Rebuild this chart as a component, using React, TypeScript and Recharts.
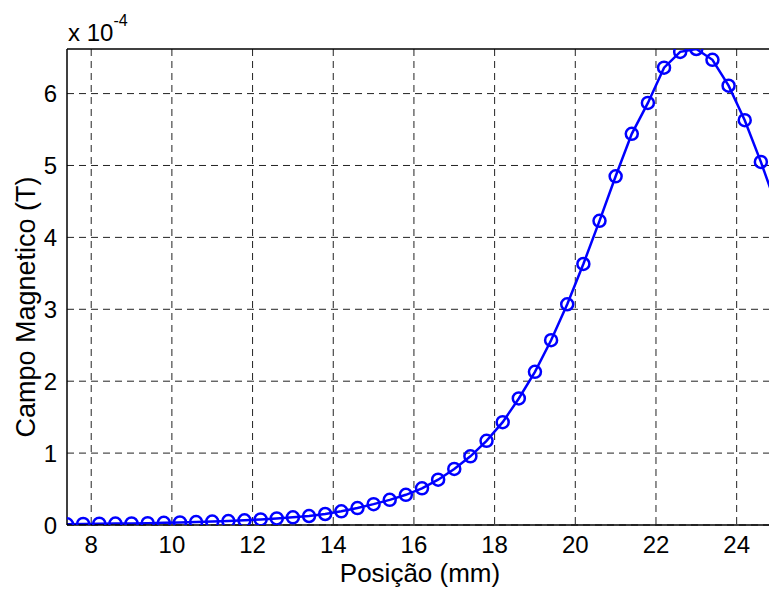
import React from 'react'
import {
  LineChart,
  Line,
  XAxis,
  YAxis,
  CartesianGrid,
  ReferenceLine,
} from 'recharts'

// posição (mm) e campo (x 1e-4 T)
const POSITIONS = [
  7.4, 7.8, 8.2, 8.6, 9.0, 9.4, 9.8, 10.2, 10.6, 11.0, 11.4, 11.8, 12.2, 12.6, 13.0,
  13.4, 13.8, 14.2, 14.6, 15.0, 15.4, 15.8, 16.2, 16.6, 17.0, 17.4, 17.8, 18.2, 18.6,
  19.0, 19.4, 19.8, 20.2, 20.6, 21.0, 21.4, 21.8, 22.2, 22.6, 23.0, 23.4, 23.8, 24.2,
  24.6, 25.0,
]
const FIELD = [
  0.01, 0.015, 0.018, 0.02, 0.022, 0.025, 0.03, 0.035, 0.04, 0.047, 0.055, 0.065, 0.078,
  0.092, 0.107, 0.125, 0.153, 0.19, 0.236, 0.29, 0.35, 0.42, 0.51, 0.63, 0.78, 0.955,
  1.17, 1.43, 1.76, 2.13, 2.57, 3.07, 3.63, 4.23, 4.85, 5.44, 5.87, 6.36, 6.58, 6.62,
  6.47, 6.11, 5.63, 5.05, 4.42,
]
const X_TICKS = [8, 10, 12, 14, 16, 18, 20, 22, 24]
const Y_TICKS = [0, 1, 2, 3, 4, 5, 6]
const Y_MAX = 6.62

const data = POSITIONS.map((x, i) => ({ x, b: FIELD[i] }))

const FONT = '"Liberation Sans", Arial, Helvetica, sans-serif'

export default function App() {
  return (
    <div
      style={{
        position: 'fixed',
        left: 0,
        top: 0,
        width: 769,
        height: 590,
        overflow: 'hidden',
        background: '#fff',
        fontFamily: FONT,
      }}
    >
      <LineChart
        width={800}
        height={590}
        data={data}
        margin={{ top: 49, right: 23, bottom: 25, left: 0 }}
      >
        <CartesianGrid
          stroke="#222"
          strokeDasharray="7 5"
          horizontalValues={Y_TICKS}
          verticalValues={X_TICKS}
        />
        <XAxis
          dataKey="x"
          type="number"
          domain={[7.4, 25.0]}
          ticks={X_TICKS}
          height={40}
          axisLine={{ stroke: '#000', strokeWidth: 1.5 }}
          tickLine={false}
          tickMargin={5}
          tick={{ fill: '#000', fontSize: 24, fontFamily: FONT }}
          allowDataOverflow
        />
        <YAxis
          type="number"
          domain={[0, Y_MAX]}
          ticks={Y_TICKS}
          width={67}
          axisLine={{ stroke: '#000', strokeWidth: 1.5 }}
          tickLine={false}
          tickMargin={4}
          tick={{ fill: '#000', fontSize: 24, fontFamily: FONT }}
          allowDataOverflow
        />
        <ReferenceLine y={Y_MAX} stroke="#000" strokeWidth={1.5} />
        <Line
          type="linear"
          dataKey="b"
          stroke="#0000ff"
          strokeWidth={2.5}
          dot={{ r: 6, stroke: '#0000ff', strokeWidth: 2.5, fill: 'none' }}
          isAnimationActive={false}
        />
        <text x={420} y={582} textAnchor="middle" fontSize={26} fontFamily={FONT} fill="#000">
          Posição (mm)
        </text>
        <text
          x={35}
          y={307}
          textAnchor="middle"
          fontSize={27}
          fontFamily={FONT}
          fill="#000"
          transform="rotate(-90 35 307)"
        >
          Campo Magnetico (T)
        </text>
        <text x={68} y={41} fontSize={24} fontFamily={FONT} fill="#000">
          x 10
          <tspan dy={-15} fontSize={16}>
            -4
          </tspan>
        </text>
      </LineChart>
    </div>
  )
}
